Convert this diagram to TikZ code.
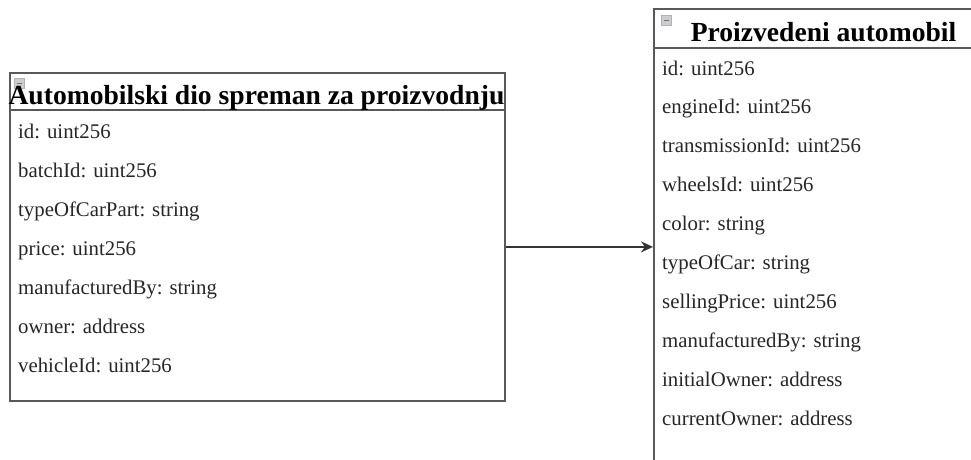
\documentclass[tikz,border=0pt]{standalone}
\usepackage{fontspec}
\setmainfont{Liberation Serif}
\usetikzlibrary{arrows.meta}
\begin{document}
\begin{tikzpicture}[x=1pt,y=-1pt,
        table node/.style={rectangle,draw=black!65,line width=1.8pt,anchor=north west,inner sep=0pt},
        title node/.style={anchor=base,inner sep=0pt,font=\fontsize{27.6}{30}\selectfont\bfseries},
        field node/.style={anchor=base west,inner sep=0pt,text=black!85,font=\fontsize{20.8}{24}\selectfont},
        icon node/.style={rectangle,draw=black!30,fill=blue!10!black!20,minimum size=10pt,inner sep=0pt,anchor=north west}]
        \clip (0,0) rectangle (971,459);
        \fill [white] (0,0) rectangle (971,459);
        % tables
        \node [table node, minimum width=495pt, minimum height=328pt] (part) at (9,72) {};
        \node [table node, minimum width=341pt, minimum height=480pt] (car) at (653,8) {};
        \draw [draw=black!65,line width=1.8pt] ([yshift=-38pt]part.north west) -- ([yshift=-38pt]part.north east);
        \draw [draw=black!65,line width=1.8pt] ([yshift=-40pt]car.north west) -- ([yshift=-40pt]car.north east);
        \node [icon node] (part icon) at (14,78) {};
        \node [icon node] (car icon) at (661,15) {};
        \draw [black!55] ([xshift=-2.5pt]part icon.center) -- ([xshift=2.5pt]part icon.center);
        \draw [black!55] ([xshift=-2.5pt]car icon.center) -- ([xshift=2.5pt]car icon.center);
        \node [title node] (part title) at (256.5,104) {Automobilski dio spreman za proizvodnju};
        \node [title node] (car title) at (823.5,41) {Proizvedeni automobil};
        % fields
        \foreach \f [count=\i from 0] in {id: uint256, batchId: uint256, typeOfCarPart: string, price: uint256, manufacturedBy: string, owner: address, vehicleId: uint256}
            \node [field node] (part \i) at (18,138+39*\i) {\f};
        \foreach \f [count=\i from 0] in {id: uint256, engineId: uint256, transmissionId: uint256, wheelsId: uint256, color: string, typeOfCar: string, sellingPrice: uint256, manufacturedBy: string, initialOwner: address, currentOwner: address}
            \node [field node] (car \i) at (662,75+38.9*\i) {\f};
        % link
        \draw [-{Stealth[length=12pt,width=11pt]},draw=black!80,line width=1.6pt]
            ([yshift=-10pt]part.east) -- ([yshift=-10pt]part.east -| car.west);
    \end{tikzpicture}
\end{document}
